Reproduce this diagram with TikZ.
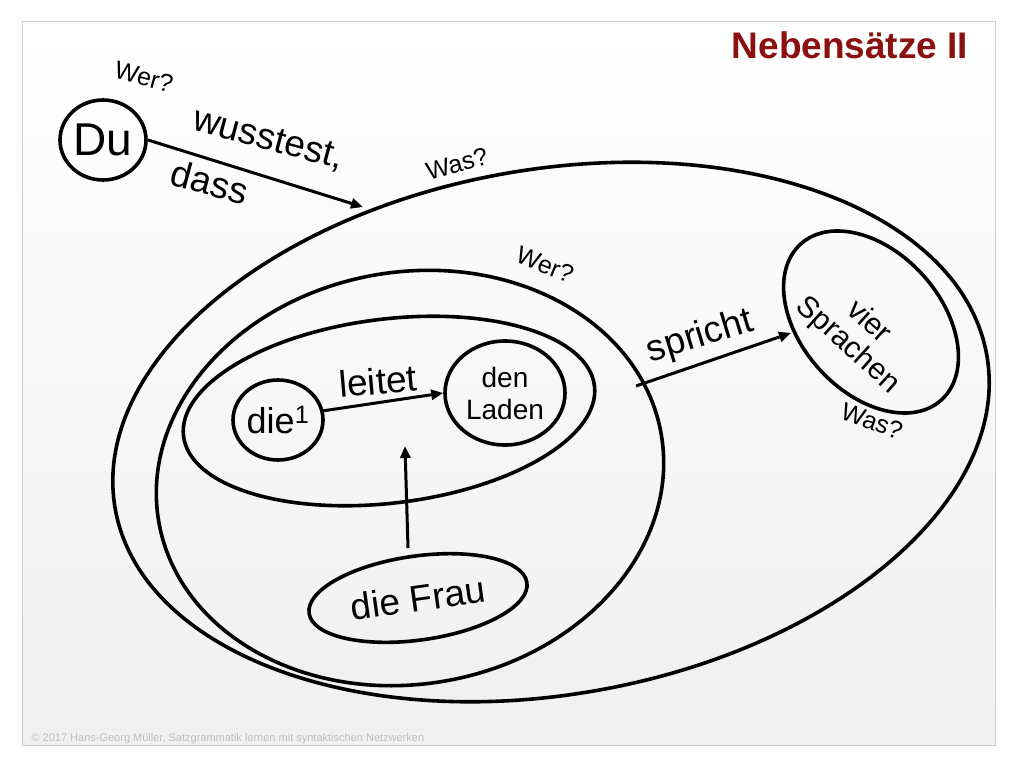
\documentclass[tikz,border=0pt]{standalone}
\usepackage{fontspec}
\setmainfont{Liberation Sans}
\usetikzlibrary{shapes.geometric,arrows.meta}
\definecolor{titlered}{HTML}{8B1010}
\begin{document}
\begin{tikzpicture}[x=1pt,y=-1pt,
  ell/.style={draw,line width=3.6pt,ellipse,inner sep=0pt},
  arr/.style={line width=3pt,-{Triangle[length=12pt,width=10pt]}},
  q/.style={font=\fontsize{25}{27}\selectfont},
  big/.style={font=\fontsize{37}{40}\selectfont}]
\useasboundingbox (0,0) rectangle (1024,768);
\shade[top color=white,bottom color=black!6] (22,22) rectangle (995,745);
\draw[black!20,line width=1pt] (22,22) rectangle (995,745);
\node[font=\bfseries\fontsize{37}{40}\selectfont,text=titlered] (title) at (850,45) {Nebensätze II};
% ellipses
\node[ell,minimum width=885pt,minimum height=525pt,rotate=10] (outer) at (551,432) {};
\node[ell,minimum width=510pt,minimum height=412pt,rotate=10] (mid) at (410,478) {};
\node[ell,minimum width=414pt,minimum height=184pt,rotate=7] (inner) at (389,411) {};
\node[ell,minimum width=90pt,minimum height=80pt,font=\fontsize{36}{40}\selectfont] (die) at (278,420) {die\textsuperscript{1}};
\node[ell,minimum width=120pt,minimum height=104pt,align=center,font=\fontsize{28}{32}\selectfont] (laden) at (505,393) {den\\Laden};
\node[ell,minimum width=220pt,minimum height=84pt,rotate=8,big] (frau) at (418,598) {die Frau};
\node[ell,minimum width=210pt,minimum height=140pt,rotate=-48] (vs) at (871,322) {};
\node[align=center,rotate=-42,font=\fontsize{30}{31}\selectfont] (vstext) at (858,334) {vier\\Sprachen};
\node[ell,minimum width=86pt,minimum height=80pt,font=\fontsize{46}{50}\selectfont] (du) at (103,140) {Du};
% connectors
\coordinate (outtop) at (363,207);
\coordinate (dustart) at (148,140);
\coordinate (lstart) at (322,411);
\coordinate (sstart) at (636,386);
\coordinate (send) at (791,333);
\coordinate (fstart) at (408,548);
\coordinate (fend) at (405,446);
\draw[arr] (dustart) -- (outtop);
\draw[arr] (lstart) -- (laden.west);
\draw[arr] (sstart) -- (send);
\draw[arr] (fstart) -- (fend);
% labels
\node[q,rotate=-15] (wer1) at (144,77) {Wer?};
\node[big,rotate=-15] (wuss) at (268,140) {wusstest,};
\node[big,rotate=-15] (dass) at (210,182) {dass};
\node[q,rotate=15] (was1) at (457,164) {Was?};
\node[q,rotate=-22] (wer2) at (545,265) {Wer?};
\node[big,rotate=17] (spr) at (700,337) {spricht};
\node[q,rotate=-20] (was2) at (872,421) {Was?};
\node[big,rotate=5] (leit) at (378,381) {leitet};
\node[anchor=west,text=black!25,font=\fontsize{11}{12}\selectfont] (foot) at (28,739) {© 2017 Hans-Georg Müller, Satzgrammatik lernen mit syntaktischen Netzwerken};
\end{tikzpicture}
\end{document}
